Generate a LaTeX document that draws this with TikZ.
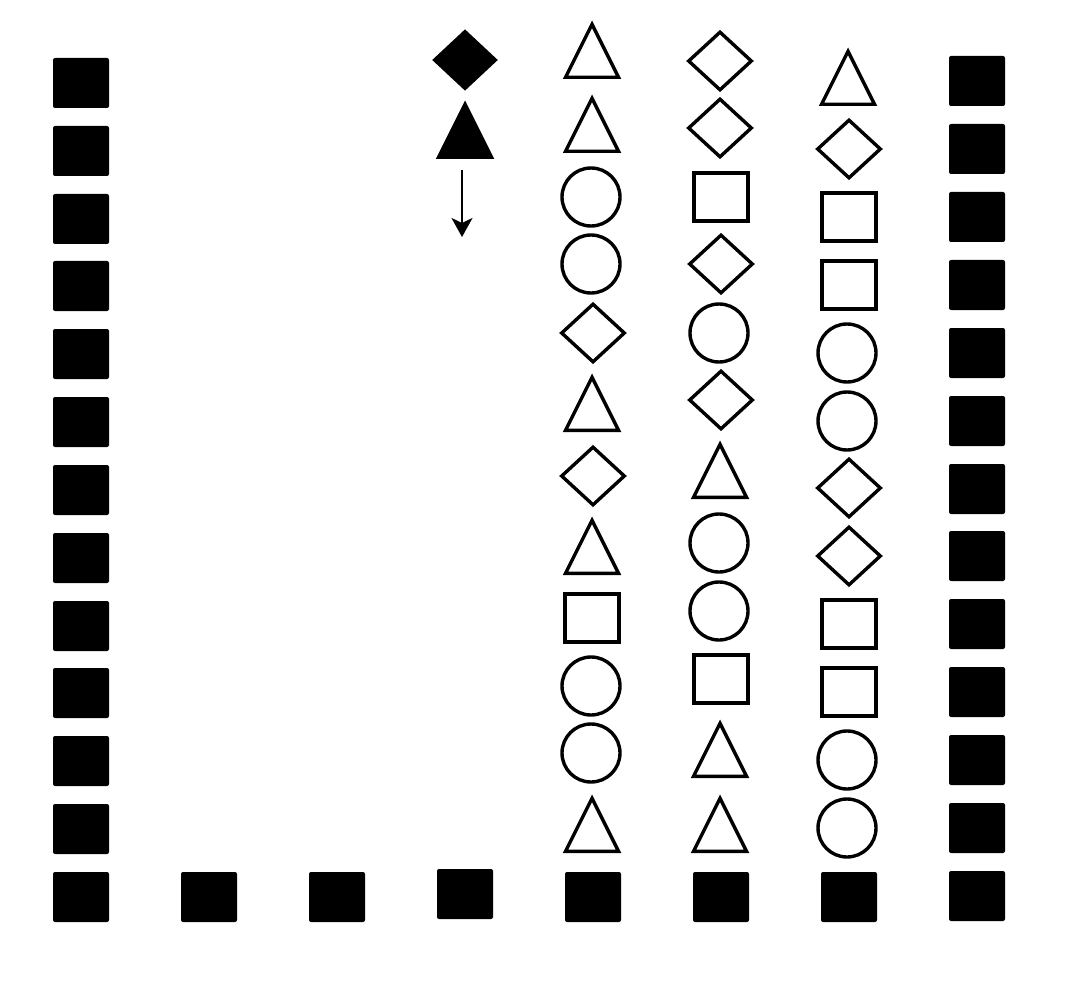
\documentclass[tikz,border=0pt]{standalone}
\usetikzlibrary{shapes.geometric,arrows.meta}

\begin{document}
\begin{tikzpicture}[
        x=1pt, y=-1pt,
        wall/.style={rectangle, fill=black, minimum width=56pt, minimum height=50pt, inner sep=0pt, rounded corners=2pt},
        sq/.style={rectangle, draw, line width=3.4pt, minimum width=54pt, minimum height=48pt, inner sep=0pt},
        circ/.style={circle, draw, line width=3.4pt, minimum size=58pt, inner sep=0pt},
        dia/.style={diamond, draw, line width=3.4pt, minimum width=64pt, minimum height=59pt, inner sep=0pt},
        tri/.style={isosceles triangle, isosceles triangle stretches, shape border rotate=90, draw, line width=3.4pt, minimum width=53pt, minimum height=53pt, inner sep=0pt, anchor=lower side, yshift=-27pt},
        falling/.style={fill=black},
        drop/.style={line width=2pt, -{Stealth[length=19pt, width=21pt, inset=5pt]}}
    ]
        \useasboundingbox (0,0) rectangle (1076,1000);

        % Left wall
        \node[wall] (wl1) at (81,83) {};
        \node[wall] (wl2) at (81,151) {};
        \node[wall] (wl3) at (81,219) {};
        \node[wall] (wl4) at (81,286) {};
        \node[wall] (wl5) at (81,354) {};
        \node[wall] (wl6) at (81,422) {};
        \node[wall] (wl7) at (81,490) {};
        \node[wall] (wl8) at (81,558) {};
        \node[wall] (wl9) at (81,626) {};
        \node[wall] (wl10) at (81,693) {};
        \node[wall] (wl11) at (81,761) {};
        \node[wall] (wl12) at (81,829) {};
        \node[wall] (wl13) at (81,897) {};

        % Right wall
        \node[wall] (wr1) at (977,81) {};
        \node[wall] (wr2) at (977,149) {};
        \node[wall] (wr3) at (977,217) {};
        \node[wall] (wr4) at (977,285) {};
        \node[wall] (wr5) at (977,353) {};
        \node[wall] (wr6) at (977,421) {};
        \node[wall] (wr7) at (977,489) {};
        \node[wall] (wr8) at (977,556) {};
        \node[wall] (wr9) at (977,624) {};
        \node[wall] (wr10) at (977,692) {};
        \node[wall] (wr11) at (977,760) {};
        \node[wall] (wr12) at (977,828) {};
        \node[wall] (wr13) at (977,896) {};

        % Floor
        \node[wall] (fl2) at (209,897) {};
        \node[wall] (fl3) at (337,897) {};
        \node[wall] (fl4) at (465,894) {};
        \node[wall] (fl5) at (593,897) {};
        \node[wall] (fl6) at (721,897) {};
        \node[wall] (fl7) at (849,897) {};

        % Falling piece
        \node[dia, falling, minimum width=62pt, minimum height=58pt] (fall_dia) at (465,60) {};
        \node[tri, falling] (fall_tri) at (465,132) {};
        \coordinate (drop_top) at (462,170);
        \coordinate (drop_end) at (462,237);
        \draw[drop] (drop_top) -- (drop_end);

        % Column 1
        \node[tri] (col1_1) at (592,52) {};
        \node[tri] (col1_2) at (592,126) {};
        \node[circ] (col1_3) at (591,197) {};
        \node[circ] (col1_4) at (591,264) {};
        \node[dia] (col1_5) at (593,333) {};
        \node[tri] (col1_6) at (592,405) {};
        \node[dia] (col1_7) at (593,476) {};
        \node[tri] (col1_8) at (592,548) {};
        \node[sq] (col1_9) at (592,618) {};
        \node[circ] (col1_10) at (591,686) {};
        \node[circ] (col1_11) at (591,753) {};
        \node[tri] (col1_12) at (592,826) {};

        % Column 2
        \node[dia] (col2_1) at (720,61) {};
        \node[dia] (col2_2) at (720,128) {};
        \node[sq] (col2_3) at (721,197) {};
        \node[dia] (col2_4) at (721,264) {};
        \node[circ] (col2_5) at (719,333) {};
        \node[dia] (col2_6) at (721,400) {};
        \node[tri] (col2_7) at (720,472) {};
        \node[circ] (col2_8) at (719,543) {};
        \node[circ] (col2_9) at (719,611) {};
        \node[sq] (col2_10) at (721,679) {};
        \node[tri] (col2_11) at (720,751) {};
        \node[tri] (col2_12) at (720,826) {};

        % Column 3
        \node[tri] (col3_1) at (848,79) {};
        \node[dia] (col3_2) at (849,149) {};
        \node[sq] (col3_3) at (849,217) {};
        \node[sq] (col3_4) at (849,285) {};
        \node[circ] (col3_5) at (847,353) {};
        \node[circ] (col3_6) at (847,421) {};
        \node[dia] (col3_7) at (849,488) {};
        \node[dia] (col3_8) at (849,556) {};
        \node[sq] (col3_9) at (849,624) {};
        \node[sq] (col3_10) at (849,692) {};
        \node[circ] (col3_11) at (847,760) {};
        \node[circ] (col3_12) at (847,828) {};

    \end{tikzpicture}
\end{document}
